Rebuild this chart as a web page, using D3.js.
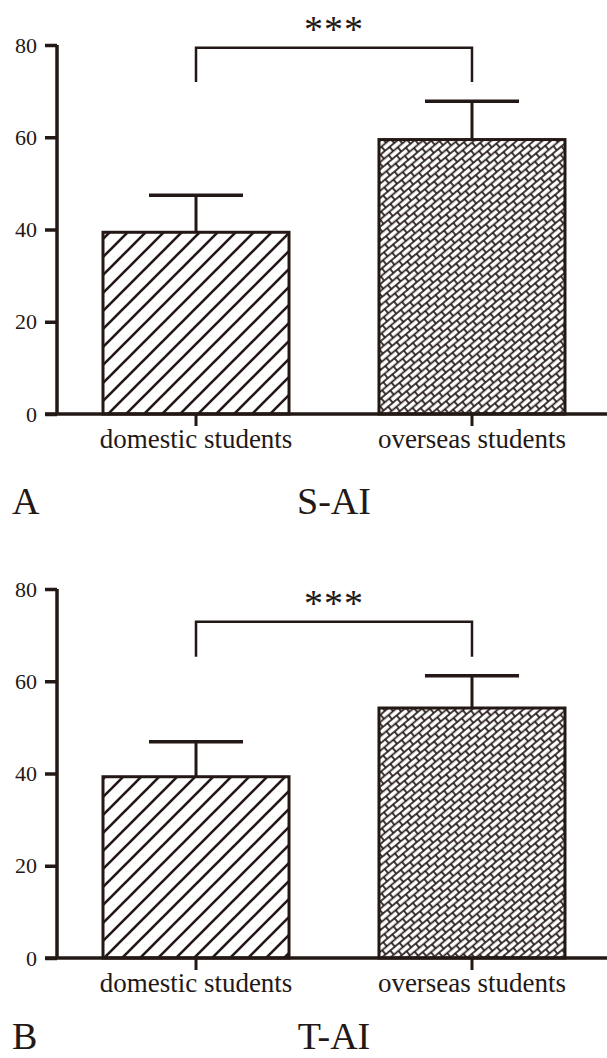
<!DOCTYPE html>
<html><head><meta charset="utf-8">
<script src="https://cdn.jsdelivr.net/npm/d3@7"></script>
<style>
html,body{margin:0;padding:0;background:#fff;}
svg{display:block;}
svg text{font-family:"Liberation Serif","Times New Roman",serif !important;fill:#231815;}
</style></head>
<body>
<svg id="chart" width="607" height="1058"></svg>
<script>
// ---- data ----
const categories = ["domestic students", "overseas students"];
const yTicks = [0, 20, 40, 60, 80];
const saiMeans = [39.4, 59.5];
const saiSD = [8.0, 8.3];
const taiMeans = [39.3, 54.2];
const taiSD = [7.6, 7.0];
const saiBracket = [72.0, 79.4];   // leg bottom, bar level
const taiBracket = [65.3, 72.9];
const sigLabels = ["***", "***"];
const panelLetters = ["A", "B"];
const panelTitles = ["S-AI", "T-AI"];

const ink = "#231815";
const serif = '"Liberation Serif","Times New Roman",serif';
const svg = d3.select("#chart");
const defs = svg.append("defs");

// diagonal "/" hatch pattern, explicit tile
const hs = 18;
const p1 = defs.append("pattern").attr("id", "hatch")
  .attr("patternUnits", "userSpaceOnUse").attr("width", hs).attr("height", hs);
p1.append("rect").attr("width", hs).attr("height", hs).attr("fill", "#fff");
[[0, hs, hs, 0], [-2, 2, 2, -2], [hs - 2, hs + 2, hs + 2, hs - 2]].forEach(s =>
  p1.append("line").attr("x1", s[0]).attr("y1", s[1]).attr("x2", s[2]).attr("y2", s[3])
    .attr("stroke", ink).attr("stroke-width", 2.6));

// brick pattern (rotated so bricks lean like "/")
const bw = 12, bh = 5.5;
const p2 = defs.append("pattern").attr("id", "brick")
  .attr("patternUnits", "userSpaceOnUse").attr("width", bw).attr("height", bh * 2)
  .attr("patternTransform", "rotate(-40)");
p2.append("rect").attr("width", bw).attr("height", bh * 2).attr("fill", "#fff");
[0, bh, bh * 2].forEach(y => p2.append("line").attr("x1", 0).attr("x2", bw)
  .attr("y1", y).attr("y2", y).attr("stroke", ink).attr("stroke-width", 1.7));
[[0, 0, bh], [bw, 0, bh], [bw / 2, bh, bh * 2]].forEach(s =>
  p2.append("line").attr("x1", s[0]).attr("x2", s[0]).attr("y1", s[1]).attr("y2", s[2])
    .attr("stroke", ink).attr("stroke-width", 1.7));

const fills = ["url(#hatch)", "url(#brick)"];

const panels = [
  {means: saiMeans, sd: saiSD, bracket: saiBracket, sig: sigLabels[0], letter: panelLetters[0], title: panelTitles[0], y0: 414, y80: 45, titleY: 514},
  {means: taiMeans, sd: taiSD, bracket: taiBracket, sig: sigLabels[1], letter: panelLetters[1], title: panelTitles[1], y0: 958, y80: 589, titleY: 1049}
];

const x = d3.scaleBand().domain(categories).range([57, 611])
  .paddingInner(0.326).paddingOuter(0.1667);

panels.forEach(p => {
  const g = svg.append("g");
  const y = d3.scaleLinear().domain([0, 80]).range([p.y0, p.y80]);

  // bars
  g.selectAll("rect.bar").data(p.means).join("rect")
    .attr("x", (d, i) => x(categories[i]))
    .attr("y", d => y(d))
    .attr("width", x.bandwidth())
    .attr("height", d => y(0) - y(d))
    .attr("fill", (d, i) => fills[i])
    .attr("stroke", ink).attr("stroke-width", 3);

  // error bars
  const cap = 94;
  p.means.forEach((m, i) => {
    const cx = x(categories[i]) + x.bandwidth() / 2;
    g.append("line").attr("x1", cx).attr("x2", cx)
      .attr("y1", y(m)).attr("y2", y(m + p.sd[i]))
      .attr("stroke", ink).attr("stroke-width", 3);
    g.append("line").attr("x1", cx - cap / 2).attr("x2", cx + cap / 2)
      .attr("y1", y(m + p.sd[i])).attr("y2", y(m + p.sd[i]))
      .attr("stroke", ink).attr("stroke-width", 3.5);
  });

  // y axis
  const ya = g.append("g").attr("transform", "translate(57,0)")
    .call(d3.axisLeft(y).tickValues(yTicks).tickSize(12).tickPadding(8).tickFormat(d3.format("d")));
  ya.attr("font-family", serif);
  ya.select(".domain").attr("d", `M0,${y(80)}V${y(0)}`).attr("stroke", ink).attr("stroke-width", 3.5);
  ya.selectAll(".tick line").attr("stroke", ink).attr("stroke-width", 3.5);
  ya.selectAll(".tick text").attr("font-size", 22).style("font-family", serif).attr("fill", ink);

  // x axis
  const xa = g.append("g").attr("transform", `translate(0,${p.y0})`)
    .call(d3.axisBottom(x).tickSize(12).tickPadding(9));
  xa.attr("font-family", serif);
  xa.select(".domain").attr("d", `M45,0H607`).attr("stroke", ink).attr("stroke-width", 3.5);
  xa.selectAll(".tick line").attr("stroke", ink).attr("stroke-width", 3);
  xa.selectAll(".tick text").attr("font-size", 27).style("font-family", serif)
    .attr("fill", ink).attr("dy", "0.95em").attr("y", 8);

  // significance bracket
  const cx0 = x(categories[0]) + x.bandwidth() / 2;
  const cx1 = x(categories[1]) + x.bandwidth() / 2;
  g.append("path")
    .attr("d", `M${cx0},${y(p.bracket[0])}V${y(p.bracket[1])}H${cx1}V${y(p.bracket[0])}`)
    .attr("fill", "none").attr("stroke", ink).attr("stroke-width", 2.5);
  g.append("text").attr("x", (cx0 + cx1) / 2).attr("y", y(p.bracket[1]) - 6)
    .attr("text-anchor", "middle").attr("font-size", 38).style("font-family", serif)
    .attr("letter-spacing", 1).text(p.sig);

  // titles
  g.append("text").attr("x", 12).attr("y", p.titleY).attr("font-size", 38)
    .style("font-family", serif).text(p.letter);
  g.append("text").attr("x", (cx0 + cx1) / 2).attr("y", p.titleY)
    .attr("text-anchor", "middle").attr("font-size", 38).style("font-family", serif).text(p.title);
});
</script>
</body></html>
